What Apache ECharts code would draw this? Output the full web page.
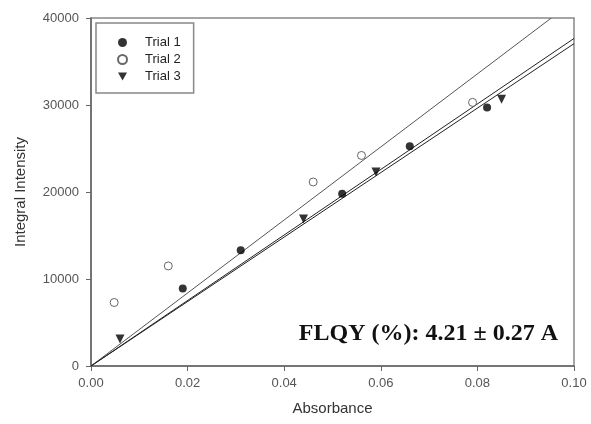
<!DOCTYPE html>
<html>
<head>
<meta charset="utf-8">
<script src="https://cdn.jsdelivr.net/npm/echarts@6/dist/echarts.min.js"></script>
<style>
  html, body { margin: 0; padding: 0; background: #fff; }
  #chart { width: 591px; height: 424px; }
</style>
</head>
<body>
<div id="chart"></div>
<script>
  // measured points (absorbance, integral intensity)
  var trial1X = [0.019, 0.031, 0.052, 0.066, 0.082]
  var trial1Y = [8900, 13300, 19800, 25250, 29700]
  var trial2X = [0.0048, 0.016, 0.046, 0.056, 0.079]
  var trial2Y = [7300, 11500, 21150, 24200, 30300]
  var trial3X = [0.006, 0.044, 0.059, 0.085]
  var trial3Y = [3100, 16900, 22300, 30650]

  // fitted lines, start and end points
  var fit1 = [[0, 0], [0.1, 37650]]
  var fit2 = [[0, 0], [0.0953, 40000]]
  var fit3 = [[0, 0], [0.1, 37050]]

  var seriesNames = ['Trial 1', 'Trial 2', 'Trial 3']
  var note = 'FLQY (%): 4.21 \u00b1 0.27 A'

  function pairs (xs, ys) {
    return xs.map(function (x, i) { return [x, ys[i]] })
  }

  var font = 'Liberation Sans, Arial, sans-serif'

  var lines = [fit1, fit2, fit3].map(function (d, i) {
    return {
      type: 'line', data: d, symbol: 'none', silent: true, z: 1,
      lineStyle: { color: i === 1 ? '#555' : '#222', width: 1 }
    }
  })

  var chart = echarts.init(document.getElementById('chart'))
  chart.setOption({
    animation: false,
    backgroundColor: '#fff',
    grid: {
      left: 91, right: 17, top: 18, bottom: 58,
      show: true, borderColor: '#888', borderWidth: 1.5
    },
    legend: {
      orient: 'vertical',
      left: 96, top: 23,
      data: [
        seriesNames[0],
        seriesNames[1],
        { name: seriesNames[2], icon: 'path://M0,0L10,0L5,9Z' }
      ],
      itemWidth: 9, itemHeight: 9, itemGap: 2,
      padding: [12, 13, 9, 21],
      borderColor: '#888', borderWidth: 1.5,
      textStyle: {
        fontFamily: font, fontSize: 13, color: '#222', lineHeight: 15,
        padding: [0, 0, 0, 13]
      }
    },
    xAxis: {
      type: 'value', min: 0, max: 0.1, interval: 0.02,
      name: 'Absorbance', nameLocation: 'middle', nameGap: 35,
      nameTextStyle: { fontFamily: font, fontSize: 15, color: '#333' },
      axisLine: { show: true, lineStyle: { color: '#666', width: 1.5 } },
      axisTick: { show: true, inside: false, length: 5, lineStyle: { color: '#666' } },
      axisLabel: {
        fontFamily: font, fontSize: 13, color: '#555', margin: 11,
        formatter: function (v) { return v.toFixed(2) }
      },
      splitLine: { show: false }
    },
    yAxis: {
      type: 'value', min: 0, max: 40000, interval: 10000,
      name: 'Integral Intensity', nameLocation: 'middle', nameGap: 63,
      nameTextStyle: { fontFamily: font, fontSize: 15, color: '#333' },
      axisLine: { show: true, lineStyle: { color: '#666', width: 1.5 } },
      axisTick: { show: true, inside: false, length: 5, lineStyle: { color: '#666' } },
      axisLabel: {
        fontFamily: font, fontSize: 13, color: '#555', margin: 12,
        formatter: function (v) { return String(v) }
      },
      splitLine: { show: false }
    },
    graphic: [{
      type: 'text', right: 33, top: 322, z: 10,
      style: {
        text: note,
        font: 'bold 24px "Liberation Serif", "Times New Roman", serif',
        fill: '#111'
      }
    }],
    series: lines.concat([
      {
        name: seriesNames[0], type: 'scatter', data: pairs(trial1X, trial1Y),
        symbol: 'circle', symbolSize: 8, z: 3,
        itemStyle: { color: '#000' }
      },
      {
        name: seriesNames[1], type: 'scatter', data: pairs(trial2X, trial2Y),
        symbol: 'circle', symbolSize: 8, z: 3,
        itemStyle: { color: '#fff', borderColor: '#444', borderWidth: 1 }
      },
      {
        name: seriesNames[2], type: 'scatter', data: pairs(trial3X, trial3Y),
        symbol: 'triangle', symbolRotate: 180, symbolSize: 9, z: 3,
        itemStyle: { color: '#000' }
      }
    ])
  })
</script>
</body>
</html>
